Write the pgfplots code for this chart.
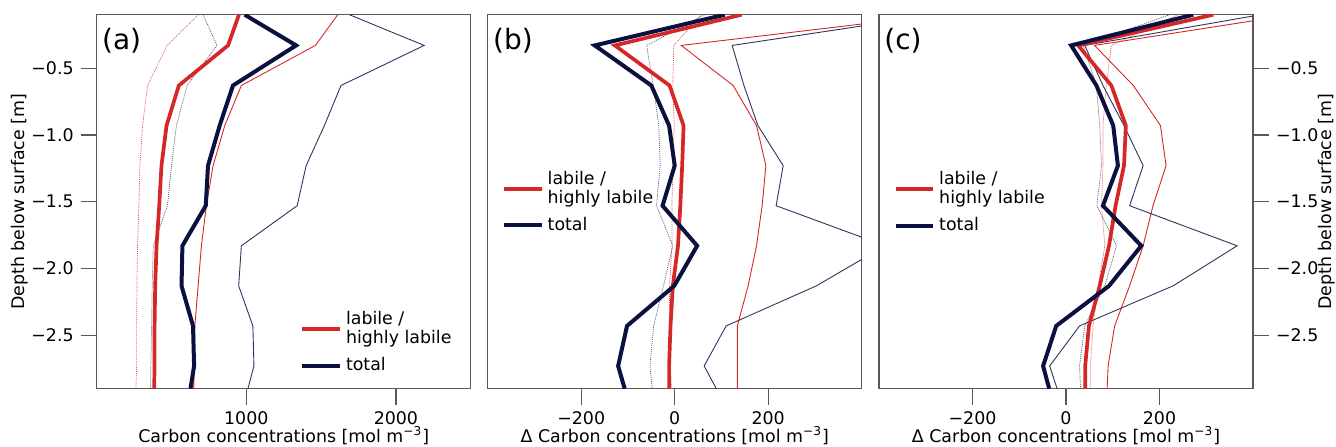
\documentclass[border=0pt]{standalone}
\usepackage{fontspec}
\setmainfont{DejaVu Sans}
\usepackage{pgfplots}
\pgfplotsset{compat=1.18}
\usepackage{pgfplotstable}

\definecolor{cred}{RGB}{214,39,40}
\definecolor{cnavy}{RGB}{10,16,64}

\pgfplotstableread{
d Rk Nk Rn Nn Rd Nd
-0.1   951   989   1611  1689  678  711
-0.33  878   1333  1462  2189  471  804
-0.63  549   911   967   1633  340  604
-0.93  467   822   856   1522  307  533
-1.23  433   744   778   1400  289  500
-1.53  418   729   733   1340  282  473
-1.83  400   573   700   967   273  378
-2.13  391   567   678   949   269  371
-2.43  387   644   656   1044  267  367
-2.73  387   651   651   1051  267  362
-2.9   384   627   649   1011  262  360
}\tabA

\pgfplotstableread{
d Rk Nk Rn Nn Rd Nd
-0.1   143  107   568  561  57   64
-0.33  -128 -171  14   123  -2   -60
-0.63  -11  -50   125  148  -4   -46
-0.93  19   -12   175  178  -1   -34
-1.23  16   0     195  232  -4   -31
-1.53  12   -26   187  217  -6   -39
-1.83  7    48    175  450  -6   -4
-2.13  -4   -1    157  303  -11  -24
-2.43  -9   -102  134  110  -11  -45
-2.73  -12  -121  134  63   -9   -53
-2.9   -12  -107  134  89   -7   -48
}\tabB

\pgfplotstableread{
d Rk Nk Rn Nn Rd Nd
-0.1   315  272  484  416  240  222
-0.33  26   11   61   40   97   37
-0.63  97   65   144  79   86   65
-0.93  128  101  202  124  79   72
-1.23  124  111  214  165  79   76
-1.53  106  79   186  136  76   66
-1.83  92   161  165  366  83   108
-2.13  72   92   136  229  69   83
-2.43  49   -21  104  29   58   40
-2.73  41   -49  90   -35  52   29
-2.9   41   -36  88   -19  52   31
}\tabC

\pgfplotsset{
  panel/.style={
    width=187pt, height=187pt, scale only axis,
    anchor=south west,
    axis line style={draw=black!65, line width=0.6pt},
    every tick/.style={draw=black!65, line width=0.6pt},
    major tick length=8pt, tick align=outside,
    xtick pos=lower,
    ymin=-2.9, ymax=-0.1,
    tick label style={font=\fontsize{8.7}{10.4}\selectfont},
    label style={font=\fontsize{8.7}{10.4}\selectfont},
    xlabel style={at={(axis description cs:0.5,-0.125)}, anchor=center},
    legend style={draw=none, fill=none, inner sep=0pt,
      font=\fontsize{8.7}{9.3}\selectfont,
      cells={anchor=west, align=left}, row sep=1.5pt},
    legend image code/.code={\draw[#1] (0pt,0pt) -- (18.8pt,0pt);},
  },
  thkR/.style={cred, line width=1.85pt},
  thkN/.style={cnavy, line width=2pt},
  thnR/.style={cred, line width=0.45pt, forget plot},
  thnN/.style={cnavy!85!white, line width=0.45pt, forget plot},
  dotR/.style={cred!80!white, line width=0.35pt, dash pattern=on 0.5pt off 0.5pt, forget plot},
  dotN/.style={cnavy!70!white, line width=0.35pt, dash pattern=on 0.5pt off 0.5pt, forget plot},
}

\begin{document}
\begin{tikzpicture}
\useasboundingbox (0,0) rectangle (668pt,223pt);

% (a)
\begin{axis}[panel, at={(48.35pt,28.65pt)},
  xmin=0, xmax=2500,
  xtick={1000,2000}, xticklabels={1000,2000},
  ytick={-0.5,-1,-1.5,-2,-2.5},
  yticklabels={−0.5,−1.0,−1.5,−2.0,−2.5},
  ytick pos=left,
  xlabel={Carbon concentrations [mol m\textsuperscript{−3}]},
  ylabel={Depth below surface [m]},
  ylabel style={at={(axis description cs:-0.205,0.5)}, anchor=center},
  legend style={at={(axis description cs:0.5436,0.218)}, anchor=north west},
]
\addplot[dotR] table[x=Rd, y=d] {\tabA};
\addplot[dotN] table[x=Nd, y=d] {\tabA};
\addplot[thnR] table[x=Rn, y=d] {\tabA};
\addplot[thnN] table[x=Nn, y=d] {\tabA};
\addplot[thkR] table[x=Rk, y=d] {\tabA};
\addlegendentry{labile /\\highly labile}
\addplot[thkN] table[x=Nk, y=d] {\tabA};
\addlegendentry{total}
\node[anchor=north west, inner sep=0pt, font=\fontsize{14}{16}\selectfont] at (rel axis cs:0.0134,0.9636) {(a)};
\end{axis}

% (b)
\begin{axis}[panel, at={(243.85pt,28.65pt)},
  xmin=-400, xmax=400,
  xtick={-200,0,200}, xticklabels={−200,0,200},
  ytick=\empty,
  xlabel={Δ Carbon concentrations [mol m\textsuperscript{−3}]},
  legend style={at={(axis description cs:0.0374,0.593)}, anchor=north west},
]
\addplot[dotR] table[x=Rd, y=d] {\tabB};
\addplot[dotN] table[x=Nd, y=d] {\tabB};
\addplot[thnR] table[x=Rn, y=d] {\tabB};
\addplot[thnN] table[x=Nn, y=d] {\tabB};
\addplot[thkR] table[x=Rk, y=d] {\tabB};
\addlegendentry{labile /\\highly labile}
\addplot[thkN] table[x=Nk, y=d] {\tabB};
\addlegendentry{total}
\node[anchor=north west, inner sep=0pt, font=\fontsize{14}{16}\selectfont] at (rel axis cs:0.0134,0.9636) {(b)};
\end{axis}

% (c)
\begin{axis}[panel, at={(439.5pt,28.65pt)},
  xmin=-400, xmax=400,
  xtick={-200,0,200}, xticklabels={−200,0,200},
  ytick={-0.5,-1,-1.5,-2,-2.5},
  yticklabels={−0.5,−1.0,−1.5,−2.0,−2.5},
  ytick pos=right, yticklabel pos=right,
  xlabel={Δ Carbon concentrations [mol m\textsuperscript{−3}]},
  ylabel={Depth below surface [m]},
  ylabel style={at={(axis description cs:1.198,0.5)}, anchor=center},
  legend style={at={(axis description cs:0.038,0.592)}, anchor=north west},
]
\addplot[dotR] table[x=Rd, y=d] {\tabC};
\addplot[dotN] table[x=Nd, y=d] {\tabC};
\addplot[thnR] table[x=Rn, y=d] {\tabC};
\addplot[thnN] table[x=Nn, y=d] {\tabC};
\addplot[thkR] table[x=Rk, y=d] {\tabC};
\addlegendentry{labile /\\highly labile}
\addplot[thkN] table[x=Nk, y=d] {\tabC};
\addlegendentry{total}
\node[anchor=north west, inner sep=0pt, font=\fontsize{14}{16}\selectfont] at (rel axis cs:0.0134,0.9636) {(c)};
\end{axis}
\end{tikzpicture}
\end{document}
